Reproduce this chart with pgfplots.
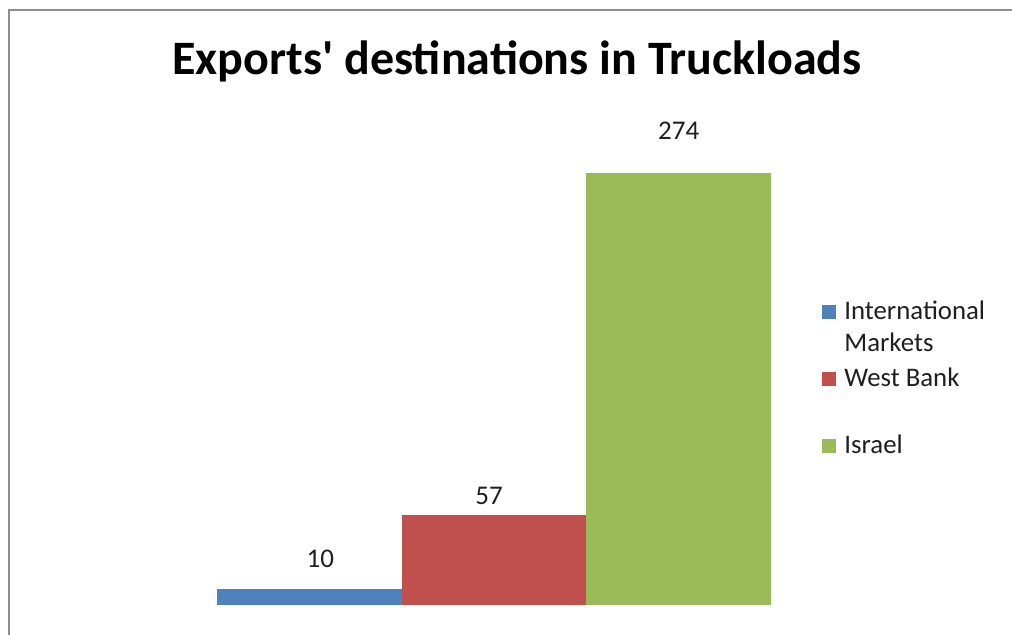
\documentclass[border=0pt]{standalone}
\usepackage{pgfplots}
\pgfplotsset{compat=1.18}
\usepackage{fontspec}
\setmainfont{Carlito}
\definecolor{cblue}{HTML}{4F81BD}
\definecolor{cred}{HTML}{C0504D}
\definecolor{cgreen}{HTML}{9BBB59}
\definecolor{frame}{HTML}{8C8C8C}
\definecolor{txt}{HTML}{1F1F1F}
\begin{document}
\begin{tikzpicture}
\useasboundingbox (0,0) rectangle (506pt,317.5pt);
\fill[white] (0,0) rectangle (506pt,317.5pt);
\draw[frame, line width=1pt] (4.5pt,0) -- (4.5pt,312.5pt) -- (506pt,312.5pt);
\node[anchor=base, font=\fontsize{24}{29}\selectfont\bfseries, text=black, inner sep=0pt] at (258.5pt,280pt) {Exports\textquotesingle{} destinations in Truckloads};
\begin{axis}[
  at={(108.5pt,15pt)}, anchor=south west,
  scale only axis, width=277pt, height=236.5pt,
  xmin=-0.5, xmax=2.5, ymin=0, ymax=300,
  enlargelimits=false, hide axis,
  ybar, bar width=1,
  /pgf/number format/assume math mode=true,
  nodes near coords,
  nodes near coords style={font=\fontsize{13.5}{16}\selectfont, text=txt, inner sep=0pt},
  legend image code/.code={\fill[#1] (0pt,0pt) rectangle (7pt,7pt);},
  legend style={at={(1.092,0.652)}, anchor=north west, draw=none, fill=none,
    inner sep=0pt, row sep=0pt, column sep=4pt,
    font=\fontsize{13.4}{16}\selectfont, text=txt,
    nodes={inner sep=0pt, text depth=},
    cells={anchor=base west, inner sep=0pt}},
]
\addplot[fill=cblue, draw=none, bar shift=0pt,
  every node near coord/.append style={anchor=base, yshift=11pt, xshift=5.5pt}]
  coordinates {(0,10)};
\addlegendentry{\parbox[t][33.5pt][t]{75pt}{\strut International\newline Markets}}
\addplot[fill=cred, draw=none, bar shift=0pt,
  every node near coord/.append style={anchor=base, yshift=5.5pt, xshift=-2.5pt}]
  coordinates {(1,57)};
\addlegendentry{\parbox[t][33.5pt][t]{75pt}{\strut West Bank}}
\addplot[fill=cgreen, draw=none, bar shift=0pt,
  every node near coord/.append style={anchor=base, yshift=16.5pt}]
  coordinates {(2,274)};
\addlegendentry{\parbox[t][33.5pt][t]{75pt}{\strut Israel}}
\end{axis}
\end{tikzpicture}
\end{document}
